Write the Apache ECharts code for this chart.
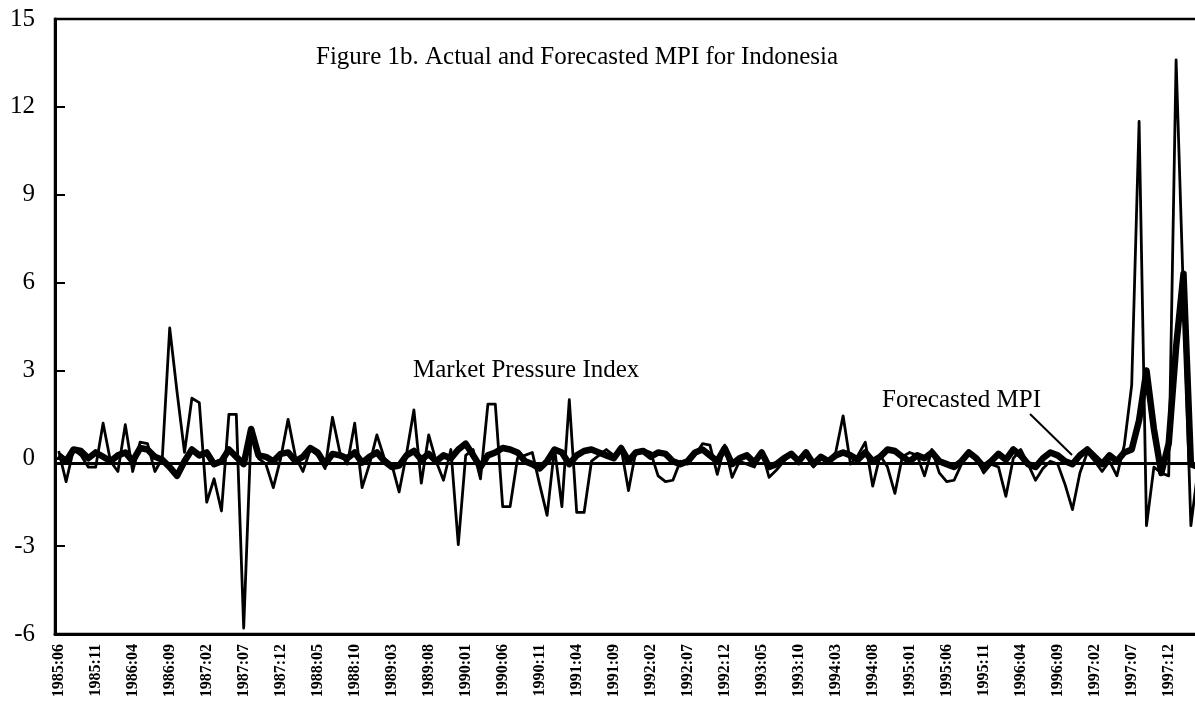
<!DOCTYPE html>
<html>
<head>
<meta charset="utf-8">
<title>Actual and Forecasted MPI for Indonesia</title>
<script src="https://cdn.jsdelivr.net/npm/echarts@6/dist/echarts.min.js"></script>
<style>
  html, body { margin: 0; padding: 0; background: #fff; }
  #mpi { width: 1195px; height: 703px; }
</style>
</head>
<body>
<div id="mpi"></div>
<script>
// monthly, 1985:06 .. 1998:04
const startYear = 1985
const startMonth = 6
const monthCount = 155

// Market Pressure Index (thin line)
const mpiActual = [
  0.25, -0.8, 0.3, 0.1, -0.3, -0.3, 1.2, -0.1, -0.45, 1.15,
  -0.45, 0.55, 0.5, -0.45, 0.0, 4.45, 2.25, 0.2, 2.05, 1.9,
  -1.5, -0.7, -1.8, 1.5, 1.5, -5.8, 0.9, 0.0, -0.2, -1.0,
  0.0, 1.33, 0.05, -0.45, 0.3, 0.1, -0.35, 1.4, 0.2, -0.2,
  1.2, -1.0, -0.2, 0.8, 0.0, -0.2, -1.15, 0.15, 1.65, -0.85,
  0.8, -0.1, -0.75, 0.3, -2.95, 0.1, 0.3, -0.7, 1.85, 1.85,
  -1.65, -1.65, 0.0, 0.1, 0.2, -0.9, -1.95, 0.35, -1.65, 2.0,
  -1.85, -1.85, -0.1, 0.1, 0.3, 0.1, 0.35, -1.1, 0.25, 0.3,
  0.2, -0.6, -0.8, -0.75, -0.1, -0.2, 0.1, 0.5, 0.45, -0.55,
  0.45, -0.65, -0.1, -0.2, -0.3, 0.25, -0.65, -0.4, -0.1, 0.15,
  -0.2, 0.15, -0.3, 0.1, -0.1, 0.2, 1.45, -0.2, 0.1, 0.55,
  -0.95, 0.1, -0.3, -1.2, 0.05, 0.2, 0.1, -0.6, 0.3, -0.5,
  -0.8, -0.75, -0.2, 0.25, 0.0, -0.5, -0.2, -0.3, -1.3, 0.0,
  0.3, -0.2, -0.75, -0.35, -0.1, -0.2, -0.9, -1.75, -0.5, 0.2,
  -0.1, -0.45, -0.1, -0.6, 0.45, 2.5, 11.5, -2.3, -0.3, -0.5,
  -0.6, 13.6, 5.5, -2.3, -0.3
]

// Forecasted MPI (thick line)
const mpiForecast = [
  0.1, -0.1, 0.3, 0.25, 0.0, 0.2, 0.05, -0.1, 0.1, 0.2,
  -0.1, 0.35, 0.3, 0.05, -0.05, -0.3, -0.6, -0.1, 0.3, 0.1,
  0.2, -0.2, -0.1, 0.3, 0.05, -0.2, 1.0, 0.1, 0.05, -0.1,
  0.15, 0.2, -0.1, 0.05, 0.35, 0.2, -0.2, 0.15, 0.1, 0.0,
  0.2, -0.15, 0.05, 0.2, -0.1, -0.3, -0.25, 0.1, 0.25, -0.05,
  0.15, -0.1, 0.1, 0.0, 0.3, 0.5, 0.1, -0.3, 0.1, 0.2,
  0.35, 0.3, 0.2, -0.1, -0.2, -0.35, -0.1, 0.3, 0.2, -0.2,
  0.1, 0.25, 0.3, 0.2, 0.1, 0.0, 0.35, -0.1, 0.2, 0.25,
  0.05, 0.2, 0.15, -0.1, -0.2, -0.1, 0.2, 0.3, 0.1, -0.1,
  0.35, -0.2, 0.0, 0.1, -0.15, 0.2, -0.3, -0.2, 0.0, 0.15,
  -0.1, 0.2, -0.2, 0.05, -0.1, 0.1, 0.2, 0.1, -0.05, 0.2,
  -0.1, 0.05, 0.3, 0.25, 0.05, -0.1, 0.1, 0.0, 0.2, -0.1,
  -0.2, -0.3, -0.1, 0.2, 0.0, -0.3, -0.1, 0.15, -0.05, 0.3,
  0.1, -0.2, -0.3, 0.0, 0.2, 0.1, -0.1, -0.2, 0.1, 0.3,
  0.05, -0.2, 0.1, -0.1, 0.2, 0.3, 1.3, 3.0, 1.0, -0.5,
  0.5, 3.8, 6.3, -0.2, -0.3
]

// the solid base line seen just under zero
const baseLevel = -0.16

const yTicks = { min: -6, max: 15, step: 3 }

// month labels "YYYY:MM"
const months = []
for (let k = 0; k < monthCount; k++) {
  const m = startMonth - 1 + k
  const y = startYear + Math.floor(m / 12)
  const mm = (m % 12) + 1
  months.push(y + ':' + (mm < 10 ? '0' + mm : mm))
}

const serif = '"Liberation Serif", "Times New Roman", serif'
const chart = echarts.init(document.getElementById('mpi'))

const option = {
  animation: false,
  backgroundColor: '#fff',
  textStyle: { fontFamily: serif, color: '#000' },
  grid: {
    left: 55,
    width: 1147, // plot runs a little past the right edge of the picture
    top: 19,
    bottom: 69,
    containLabel: false,
    outerBoundsMode: 'none',
    show: true,
    borderColor: '#000',
    borderWidth: 2.5
  },
  xAxis: {
    type: 'category',
    data: months,
    boundaryGap: true,
    axisLine: { onZero: false, lineStyle: { color: '#000', width: 3 } },
    axisTick: { show: false },
    axisLabel: {
      interval: 4,
      rotate: 90,
      margin: 10,
      color: '#000',
      fontFamily: serif,
      fontSize: 16,
      fontWeight: 'bold'
    },
    splitLine: { show: false }
  },
  yAxis: {
    type: 'value',
    min: yTicks.min,
    max: yTicks.max,
    interval: yTicks.step,
    axisLine: { show: true, lineStyle: { color: '#000', width: 3 } },
    axisTick: { show: true, inside: true, length: 10, lineStyle: { color: '#000', width: 2 } },
    axisLabel: { color: '#000', fontFamily: serif, fontSize: 25, margin: 20 },
    splitLine: { show: false }
  },
  series: [
    {
      name: 'Forecasted MPI',
      type: 'line',
      data: mpiForecast,
      symbol: 'none',
      lineStyle: { color: '#000', width: 6.5, join: 'round' },
      markLine: {
        silent: true,
        symbol: 'none',
        label: { show: false },
        lineStyle: { color: '#000', width: 3, type: 'solid' },
        data: [{ yAxis: baseLevel }]
      }
    },
    {
      name: 'Market Pressure Index',
      type: 'line',
      data: mpiActual,
      symbol: 'none',
      lineStyle: { color: '#000', width: 2.8, join: 'round' }
    }
  ],
  graphic: [
    {
      type: 'text',
      left: 316,
      top: 45,
      style: { text: 'Figure 1b. Actual and Forecasted MPI for Indonesia', font: '25px ' + serif, fill: '#000' }
    },
    {
      type: 'text',
      left: 413,
      top: 358,
      style: { text: 'Market Pressure Index', font: '25px ' + serif, fill: '#000' }
    },
    {
      type: 'text',
      left: 882,
      top: 388,
      style: { text: 'Forecasted MPI', font: '25px ' + serif, fill: '#000' }
    },
    {
      type: 'line',
      shape: { x1: 1030, y1: 414, x2: 1072, y2: 455 },
      style: { stroke: '#000', lineWidth: 2 }
    }
  ]
}
chart.setOption(option)
</script>
</body>
</html>
